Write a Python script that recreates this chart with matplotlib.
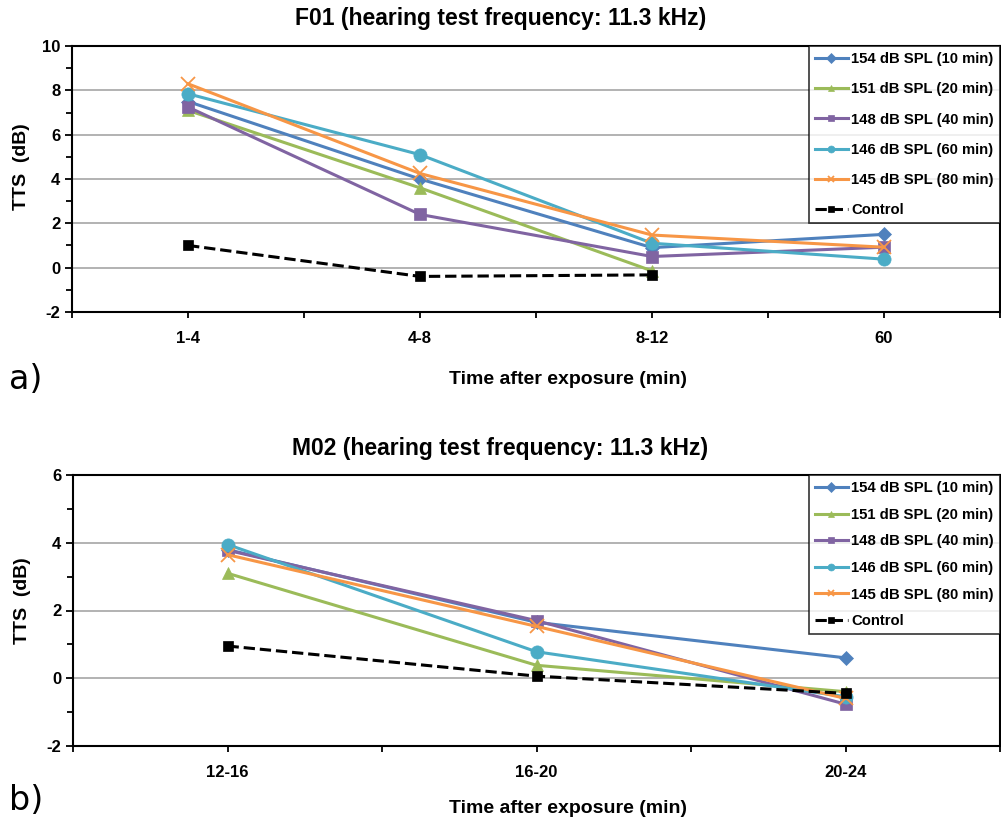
import numpy as np
import matplotlib.pyplot as plt
from matplotlib.ticker import MultipleLocator

plt.rcParams['font.family'] = ['Liberation Sans', 'DejaVu Sans']
plt.rcParams['axes.unicode_minus'] = False

labels = ['154 dB SPL (10 min)', '151 dB SPL (20 min)', '148 dB SPL (40 min)',
          '146 dB SPL (60 min)', '145 dB SPL (80 min)', 'Control']
colors = ['#4F81BD', '#9BBB59', '#8064A2', '#4BACC6', '#F79646', 'black']
markers = ['D', '^', 's', 'o', 'x', 's']
msizes = [7.5, 8.5, 9, 9.5, 10, 7.5]

# panel a) F01
cats_a = ['1-4', '4-8', '8-12', '60']
f01 = [
    [7.5, 4.0, 0.9, 1.5],          # 154
    [7.1, 3.6, -0.15, np.nan],     # 151
    [7.25, 2.4, 0.5, 0.92],        # 148
    [7.85, 5.1, 1.1, 0.38],        # 146
    [8.3, 4.25, 1.47, 0.92],       # 145
    [1.0, -0.4, -0.33, np.nan],    # control
]

# panel b) M02
cats_b = ['12-16', '16-20', '20-24']
m02 = [
    [3.8, 1.65, 0.6],
    [3.1, 0.38, -0.4],
    [3.78, 1.7, -0.77],
    [3.95, 0.78, -0.55],
    [3.65, 1.53, -0.6],
    [0.95, 0.06, -0.45],
]


def panel(ax, cats, data, ylim, lspace, xlpad, yly):
    x = np.arange(len(cats))
    for vals, lab, c, m, ms in zip(data, labels, colors, markers, msizes):
        ls = '--' if lab == 'Control' else '-'
        ax.plot(x, vals, ls=ls, color=c, marker=m, ms=ms, lw=2.2,
                mew=1.3 if m == 'x' else 0.5, label=lab, zorder=3)
    ax.set_xlim(-0.5, len(cats) - 0.5)
    ax.set_ylim(*ylim)
    ax.set_xticks(x)
    ax.set_xticklabels(cats, fontweight='bold', fontsize=12)
    ax.set_xticks(np.arange(len(cats) + 1) - 0.5, minor=True)
    ax.tick_params(axis='x', which='both', length=4, width=1.3, direction='out', pad=10)
    ax.yaxis.set_major_locator(MultipleLocator(2))
    ax.yaxis.set_minor_locator(MultipleLocator(1))
    ax.tick_params(axis='y', which='major', length=5, width=1.3, labelsize=12)
    ax.tick_params(axis='y', which='minor', length=4, width=1.3)
    for t in ax.get_yticklabels():
        t.set_fontweight('bold')
    ax.grid(axis='y', color='#a6a6a6', lw=1.2)
    ax.set_axisbelow(True)
    for s in ax.spines.values():
        s.set_linewidth(1.5)
        s.set_color('black')
    ax.set_ylabel('TTS  (dB)', fontweight='bold', fontsize=14)
    ax.yaxis.set_label_coords(-0.045, yly)
    ax.set_xlabel('Time after exposure (min)', fontweight='bold', fontsize=14,
                  labelpad=xlpad, x=0.534)
    leg = ax.legend(loc='upper right', bbox_to_anchor=(1.0, 1.0), borderaxespad=0,
                    fancybox=False, edgecolor='black',
                    prop={'weight': 'bold', 'size': 10.7}, labelspacing=lspace,
                    handlelength=2.2, handletextpad=0.25, borderpad=0.4)
    leg.get_frame().set_linewidth(1.2)
    for h in leg.legend_handles:
        h.set_markersize(5)


fig = plt.figure(figsize=(10.01, 8.25), dpi=100)
ax1 = fig.add_axes([0.072, 0.622, 0.927, 0.322])
ax2 = fig.add_axes([0.073, 0.096, 0.926, 0.328])

panel(ax1, cats_a, f01, (-2, 10), 1.09, 18, 0.545)
panel(ax2, cats_b, m02, (-2, 6), 0.85, 14, 0.535)

fig.text(0.5, 1 - 18 / 825, 'F01 (hearing test frequency: 11.3 kHz)',
         ha='center', va='center', fontweight='bold', fontsize=16.5)
fig.text(0.5, 1 - 448 / 825, 'M02 (hearing test frequency: 11.3 kHz)',
         ha='center', va='center', fontweight='bold', fontsize=16.5)

fig.text(0.009, 1 - 379 / 825, 'a)', fontsize=24, va='center', family='DejaVu Sans')
fig.text(0.009, 1 - 800 / 825, 'b)', fontsize=24, va='center', family='DejaVu Sans')

fig.savefig('out.png', dpi=100)
